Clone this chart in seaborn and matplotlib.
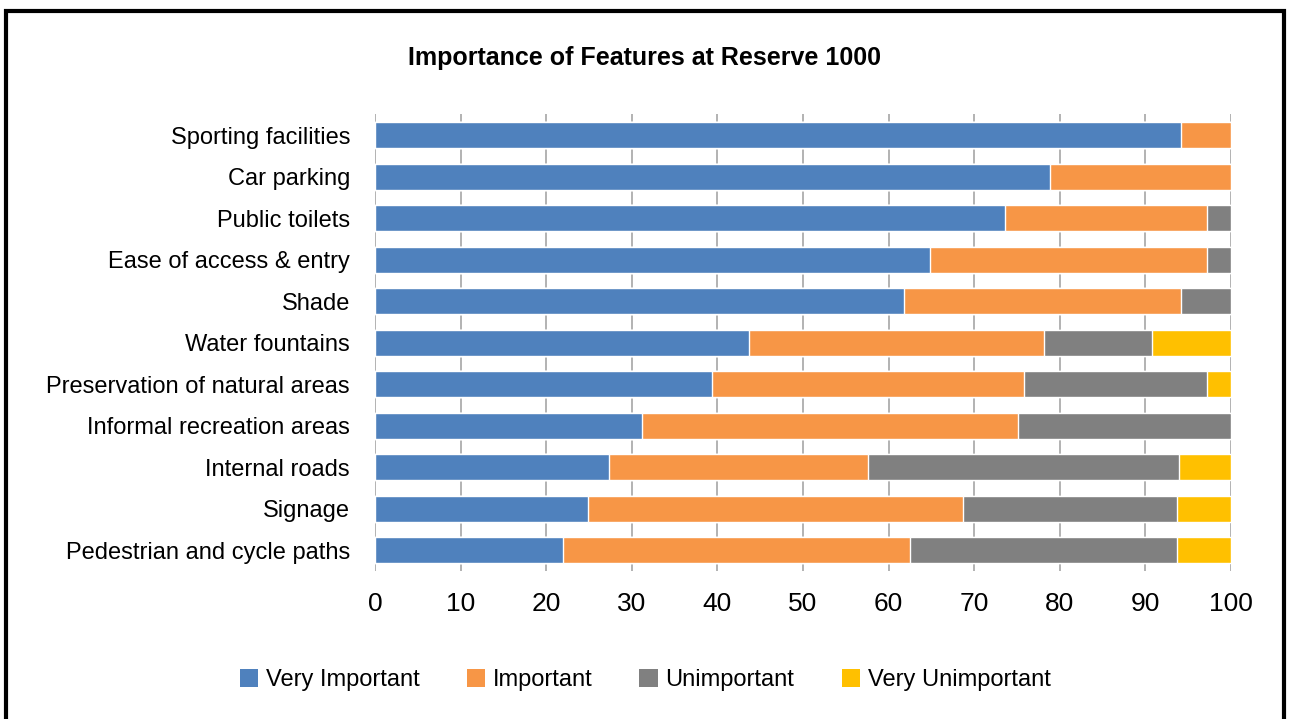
import numpy as np
import pandas as pd
import matplotlib
matplotlib.use("Agg")
import matplotlib.pyplot as plt
from matplotlib.patches import Patch, Rectangle
import seaborn as sns

# ----------------------
# data (percent of respondents)
# ----------------------
features = [
    "Sporting facilities", "Car parking", "Public toilets",
    "Ease of access & entry", "Shade", "Water fountains",
    "Preservation of natural areas", "Informal recreation areas",
    "Internal roads", "Signage", "Pedestrian and cycle paths",
]
very_important = [94.2, 78.9, 73.6, 64.8, 61.8, 43.7, 39.4, 31.2, 27.3, 24.9, 22.0]
important = [5.8, 21.1, 23.6, 32.4, 32.4, 34.5, 36.4, 43.9, 30.3, 43.8, 40.5]
unimportant = [0.0, 0.0, 2.8, 2.8, 5.8, 12.6, 21.4, 24.9, 36.3, 25.0, 31.2]
very_unimportant = [0.0, 0.0, 0.0, 0.0, 0.0, 9.2, 2.8, 0.0, 6.1, 6.3, 6.3]

series_names = ["Very Important", "Important", "Unimportant", "Very Unimportant"]
colors = ["#4F81BD", "#F79646", "#808080", "#FFC000"]

# ----------------------
# cumulative sums for stacking
# ----------------------
vals = np.array([very_important, important, unimportant, very_unimportant])
cum = np.cumsum(vals, axis=0)
df = pd.DataFrame({"feature": features})
for i, name in enumerate(series_names):
    df[name] = cum[i]

sns.set_style("white")
plt.rcParams["font.family"] = ["Liberation Sans Narrow", "Liberation Sans", "DejaVu Sans"]
plt.rcParams["text.color"] = "black"
plt.rcParams["xtick.labelcolor"] = "black"
plt.rcParams["ytick.labelcolor"] = "black"

fig = plt.figure(figsize=(12.9, 7.19), dpi=100)
ax = fig.add_axes([0.2907, 0.206, 0.6636, 0.635])

# draw totals back-to-front so the stacks show
for name, col in reversed(list(zip(series_names, colors))):
    sns.barplot(data=df, x=name, y="feature", color=col, orient="h",
                width=0.63, saturation=1, ax=ax)

ax.set_xlim(0, 100)
ax.set_xticks(range(0, 101, 10))
ax.set_xlabel("")
ax.set_ylabel("")
ax.xaxis.grid(True, color="#A6A6A6", linewidth=1.2)
ax.set_axisbelow(True)
for s in ax.spines.values():
    s.set_visible(False)
ax.tick_params(axis="x", length=9, width=1.2, color="#A6A6A6", labelsize=19, pad=6)
ax.tick_params(axis="y", length=0, labelsize=17, pad=18)

fig.text(0.5, 0.92, "Importance of Features at Reserve 1000", ha="center",
         va="center", fontsize=18, fontweight="bold")

handles = [Patch(facecolor=c, edgecolor="none") for c in colors]
fig.legend(handles, series_names, loc="center", bbox_to_anchor=(0.5, 0.054),
           ncol=4, frameon=False, fontsize=17, handlelength=0.8,
           handleheight=0.8, handletextpad=0.3, columnspacing=2.0)

# outer frame
fig.patches.append(Rectangle((0.005, -0.01), 0.99, 0.995, transform=fig.transFigure,
                             fill=False, edgecolor="black", linewidth=3))

plt.savefig("out.png", dpi=100)
plt.close()
